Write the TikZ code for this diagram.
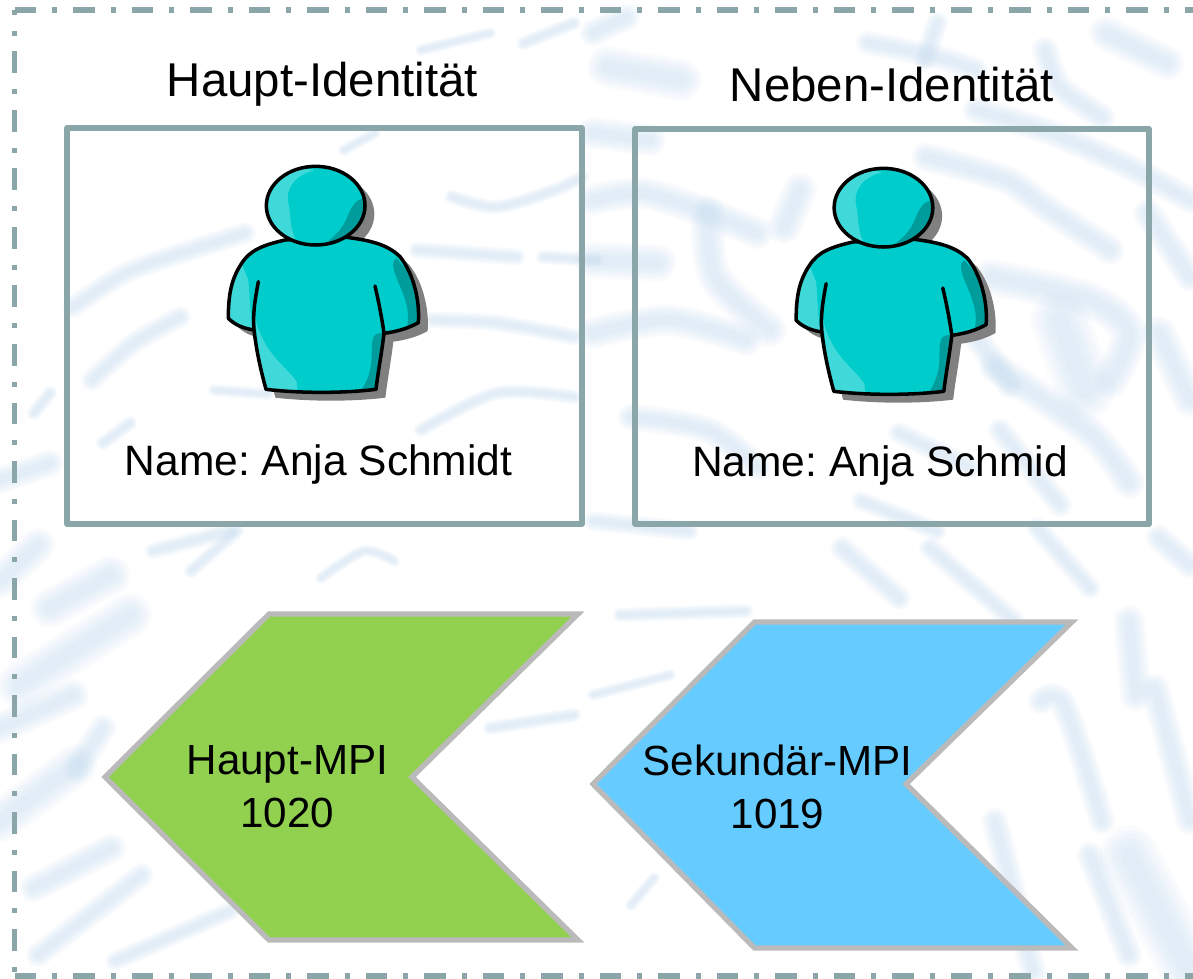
\documentclass[tikz,border=0pt]{standalone}
\usepackage{fontspec}
\setmainfont{Liberation Sans}
\definecolor{frameteal}{HTML}{8AA6A8}
\definecolor{ridgeblue}{HTML}{C4DAEE}
\definecolor{mpigreen}{HTML}{92D050}
\definecolor{mpiblue}{HTML}{66CCFF}
\definecolor{mpiedge}{HTML}{BABABA}
\definecolor{shirt}{HTML}{00CCCC}
\definecolor{shirtlight}{HTML}{40D9D9}
\definecolor{shirtdark}{HTML}{009C9C}
\newcommand{\ridge}[2][14]{%
	\foreach \w in {1.4,1.2,1.0,0.8,0.6,0.4}
		\draw[ridge_style,line width=#1*\w pt] plot[smooth] coordinates {#2};}
\newcommand{\bodyoutline}{(255,270) .. controls (190,285) and (150,300) .. (125,340) .. controls (95,385) and (85,430) .. (85,505) .. controls (105,525) and (130,535) .. (162,540) .. controls (170,610) and (185,670) .. (198,718) .. controls (300,730) and (430,730) .. (528,718) .. controls (535,660) and (545,610) .. (552,550) .. controls (590,545) and (625,535) .. (655,518) .. controls (660,450) and (640,370) .. (600,320) .. controls (560,280) and (500,270) .. (440,262) -- cycle}
\newcommand{\headoutline}{(347,167) ellipse [x radius=148,y radius=118]}

\begin{document}
\frenchspacing
\begin{tikzpicture}[x=0.02cm,y=-0.02cm,
		ridge_style/.style={draw=ridgeblue,opacity=0.1,line cap=round,line join=round},
		frame_style/.style={draw=frameteal,line width=3pt,dash pattern=on 12.4pt off 9pt on 2.9pt off 9pt},
		box_style/.style={draw=frameteal,line width=3pt,line join=round},
		mpi_style/.style={draw=mpiedge,line width=3pt,line join=miter},
		title_style/.style={font=\fontsize{27}{32}\selectfont,anchor=base},
		name_style/.style={font=\fontsize{24.2}{29}\selectfont,anchor=base},
		mpi_text/.style={font=\fontsize{24}{30}\selectfont,align=center,inner sep=0pt},
		outline_style/.style={draw=black,line width=2pt,line cap=round,line join=round},
		person/.pic={
			\fill[black!50] [shift={(28,25)}] \headoutline;
			\fill[black!50] [shift={(28,25)}] \bodyoutline;
			\fill[shirt] \bodyoutline;
			\begin{scope}
				\clip \bodyoutline;
				\fill[shirtlight] (125,340) -- (145,390) .. controls (150,450) and (150,500) .. (160,545) -- (80,530) -- (75,400) -- cycle;
				\fill[shirtlight] (165,500) .. controls (190,610) and (250,640) .. (290,695) -- (292,730) -- (190,730) -- cycle;
				\fill[shirtdark] (590,325) .. controls (565,335) and (590,385) .. (605,420) .. controls (620,460) and (630,490) .. (620,535) -- (670,520) -- (670,420) -- cycle;
				\fill[shirtdark] (550,550) .. controls (515,545) and (515,570) .. (515,620) .. controls (515,660) and (500,700) .. (480,725) -- (535,725) -- cycle;
			\end{scope}
			\draw[outline_style] \bodyoutline;
			\draw[outline_style] (175,395) .. controls (165,450) and (158,490) .. (162,540);
			\draw[outline_style] (525,408) .. controls (535,450) and (545,500) .. (552,550);
			\fill[shirt] \headoutline;
			\begin{scope}
				\clip \headoutline;
				\fill[shirtlight] (345,60) .. controls (285,75) and (255,115) .. (265,160) .. controls (275,200) and (265,235) .. (295,285) -- (190,285) -- (190,40) -- cycle;
				\fill[shirtdark] (492,145) .. controls (455,150) and (450,190) .. (430,225) .. controls (415,250) and (395,265) .. (370,285) -- (510,260) -- cycle;
			\end{scope}
			\draw[outline_style] \headoutline;
		}]

	\useasboundingbox (0,0) rectangle (1193,978);
	\clip (0,0) rectangle (1193,978);

	% fingerprint
	\ridge[9]{(73,307) (126,273) (191,250) (245,233)}
	\ridge[9]{(92,380) (134,343) (180,317)}
	\ridge[6]{(452,197) (497,207) (555,190) (582,177)}
	\ridge[7]{(417,250) (517,257)}
	\ridge[7]{(432,320) (497,323) (574,337)}
	\ridge[6]{(524,43) (574,23)}
	\ridge[5]{(421,50) (490,33)}
	\ridge[6]{(34,413) (50,393)}
	\ridge[6]{(103,443) (130,423)}
	\ridge[5]{(344,150) (375,133)}
	\ridge[6]{(421,430) (497,393) (574,397)}
	\ridge[11]{(0,480) (50,463)}
	\ridge[5]{(214,390) (268,394)}
	\ridge[6]{(543,257) (597,260)}
	\ridge[11]{(593,33) (627,17)}
	\ridge[17]{(608,67) (681,80)}
	\ridge[10]{(868,43) (937,57) (976,70)}
	\ridge[9]{(937,23) (925,60)}
	\ridge[11]{(1045,50) (1060,87) (1102,117)}
	\ridge[14]{(1106,33) (1167,63)}
	\ridge[13]{(593,133) (650,140)}
	\ridge[13]{(593,200) (643,193) (708,213) (757,233)}
	\ridge[14]{(784,227) (800,190)}
	\ridge[14]{(708,213) (715,277) (770,330)}
	\ridge[12]{(926,157) (1006,180) (1045,207) (1110,250)}
	\ridge[11]{(976,110) (1052,133) (1129,167) (1190,200)}
	\ridge[15]{(593,260) (658,263)}
	\ridge[15]{(991,277) (1090,300) (1129,333) (1110,380)}
	\ridge[24]{(1060,320) (1085,390)}
	\ridge[12]{(1148,213) (1190,277)}
	\ridge[13]{(593,333) (670,320) (746,340)}
	\ridge[11]{(631,417) (708,430) (758,467)}
	\ridge[9]{(899,433) (970,467)}
	\ridge[13]{(995,367) (1090,433) (1129,483)}
	\ridge[14]{(1159,333) (1190,400)}
	\ridge[11]{(950,300) (1010,385)}
	\ridge[10]{(1000,430) (1060,505)}
	\ridge[14]{(0,581) (38,545)}
	\ridge[16]{(50,608) (111,575)}
	\ridge[18]{(19,685) (130,615)}
	\ridge[13]{(0,728) (73,695)}
	\ridge[11]{(103,728) (76,770)}
	\ridge[17]{(0,821) (76,765)}
	\ridge[12]{(34,888) (111,848)}
	\ridge[10]{(38,955) (142,875)}
	\ridge[8]{(115,961) (230,911)}
	\ridge[7]{(153,551) (230,531)}
	\ridge[6]{(191,571) (237,531)}
	\ridge[5]{(321,578) (364,551) (394,561)}
	\ridge[6]{(490,728) (574,715)}
	\ridge[5]{(593,695) (670,675)}
	\ridge[6]{(620,615) (746,611)}
	\ridge[10]{(842,548) (899,598)}
	\ridge[9]{(930,548) (1014,621)}
	\ridge[9]{(1037,528) (1090,588)}
	\ridge[11]{(1041,701) (1064,705) (1102,821)}
	\ridge[13]{(1129,621) (1136,695)}
	\ridge[12]{(1155,688) (1190,820)}
	\ridge[24]{(1129,855) (1190,971)}
	\ridge[11]{(995,821) (1033,971)}
	\ridge[11]{(1090,855) (1129,955)}
	\ridge[11]{(1159,538) (1190,565)}
	\ridge[8]{(593,521) (689,531)}
	\ridge[8]{(861,501) (937,531)}
	\ridge[5]{(631,905) (654,878)}

	% outer frame
	\coordinate (tl) at (14.5,10);
	\coordinate (tr) at (1193,10);
	\coordinate (bl) at (14.5,976);
	\coordinate (br) at (1193,976);
	\draw[frame_style] (tl) -- (tr);
	\draw[frame_style,dash phase=9.7pt] (tl) -- (bl);
	\draw[frame_style] (bl) -- (br);

	% identities
	\node[box_style,minimum width=515*0.02cm,minimum height=396*0.02cm] (haupt_box) at (324.5,326) {};
	\node[box_style,minimum width=514*0.02cm,minimum height=395*0.02cm] (neben_box) at (892,326.5) {};
	\pic at (200,150) [scale=1/3] {person};
	\pic at (767.8,152) [scale=1/3] {person};
	\node[title_style] (haupt_title) at (322.4,96.7) {Haupt-Identität};
	\node[title_style] (neben_title) at (892,101.7) {Neben-Identität};
	\node[name_style] (haupt_name) at (318.6,475) {Name: Anja Schmidt};
	\node[name_style] (neben_name) at (880,476) {Name: Anja Schmid};

	% MPI shapes
	\draw[mpi_style,fill=mpigreen] (105,777) -- (269,614) -- (578,614) -- (412,777) -- (578,940) -- (269,940) -- cycle;
	\draw[mpi_style,fill=mpiblue] (593,784) -- (754.5,622) -- (1072,622) -- (906,784) -- (1072,948) -- (754.5,948) -- cycle;
	\node[mpi_text] (haupt_mpi) at (287.4,787) {Haupt-MPI\\1020};
	\node[mpi_text] (neben_mpi) at (777.5,787) {Sekundär-MPI\\1019};
\end{tikzpicture}
\end{document}
